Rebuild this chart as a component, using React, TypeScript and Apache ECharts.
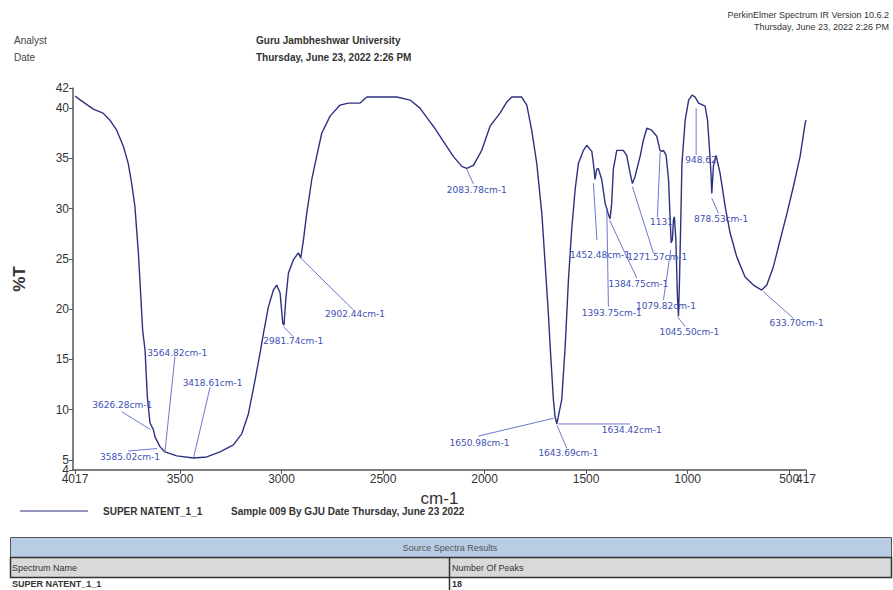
import React, { useEffect, useRef } from "react";
import * as echarts from "echarts";

// Spectrum trace (wavenumber cm-1, %T)
const wavenumbers = [
  4017, 3990, 3927, 3879, 3845, 3812, 3779, 3755, 3738, 3722, 3705, 3694, 3684, 3672, 3661, 3648, 3631, 3623, 3598, 3574,
  3516, 3434, 3368, 3303, 3237, 3196, 3163, 3130, 3106, 3089, 3065, 3040, 3024, 3007, 2994, 2988, 2978, 2966, 2942, 2917,
  2905, 2892, 2876, 2851, 2827, 2802, 2761, 2712, 2671, 2613, 2580, 2432, 2367, 2318, 2268, 2252, 2203, 2154, 2112, 2088,
  2055, 2014, 1973, 1924, 1891, 1866, 1817, 1792, 1768, 1743, 1718, 1702, 1686, 1677, 1661, 1653, 1644, 1637, 1620, 1603,
  1587, 1571, 1554, 1538, 1513, 1497, 1472, 1464, 1456, 1448, 1440, 1423, 1406, 1398, 1390, 1382, 1374, 1366, 1349, 1317,
  1300, 1283, 1272, 1259, 1234, 1218, 1201, 1177, 1152, 1136, 1127, 1119, 1106, 1094, 1086, 1081, 1075, 1070, 1065, 1058,
  1050, 1045, 1040, 1033, 1028, 1012, 995, 978, 963, 946, 914, 902, 892, 885, 881, 873, 860, 840, 815, 791,
  758, 717, 676, 635, 610, 578, 544, 511, 479, 446, 421, 417,
];
const transmittance = [
  41.2, 40.8, 39.9, 39.5, 38.8, 37.8, 36.2, 34.5, 32.5, 30.2, 25.6, 21.6, 17.9, 15.9, 11.3, 8.7, 8.0, 7.3, 6.3, 5.8,
  5.4, 5.2, 5.3, 5.8, 6.5, 7.6, 9.6, 13.0, 15.6, 17.6, 20.2, 21.9, 22.4, 21.6, 18.6, 18.4, 21.2, 23.6, 24.9, 25.6,
  25.1, 26.9, 29.5, 32.9, 35.2, 37.5, 39.2, 40.3, 40.5, 40.5, 41.1, 41.1, 40.8, 40.0, 38.6, 38.2, 36.7, 35.2, 34.2, 34.0,
  34.3, 35.8, 38.2, 39.5, 40.6, 41.1, 41.1, 40.3, 37.8, 34.5, 29.5, 24.6, 19.6, 16.3, 11.0, 9.3, 8.6, 9.3, 11.0, 16.3,
  22.9, 27.9, 31.9, 34.5, 35.8, 36.3, 35.7, 34.5, 32.9, 33.9, 34.0, 32.9, 30.5, 30.0, 29.4, 29.0, 30.5, 33.9, 35.8, 35.8,
  35.3, 33.5, 32.5, 33.2, 35.2, 36.8, 38.0, 37.8, 37.2, 35.8, 35.7, 35.8, 35.3, 32.9, 28.9, 26.6, 26.9, 28.9, 29.2, 26.9,
  21.2, 19.3, 22.9, 29.5, 34.5, 38.8, 40.8, 41.3, 41.1, 40.5, 40.2, 38.8, 35.8, 33.5, 31.5, 34.2, 35.3, 33.5, 30.2, 27.6,
  25.2, 23.2, 22.4, 21.9, 22.4, 24.2, 26.9, 29.5, 32.2, 35.2, 38.5, 38.8,
];

// Tick labels (the range-end labels 417 and 4 sit on companion axes)
const xTicks = [4017, 3500, 3000, 2500, 2000, 1500, 1000, 500];
const xEndTicks = [417];
const yTicks = [5, 10, 15, 20, 25, 30, 35, 40, 42];
const yEndTicks = [4];

// Peak annotations: text, peak point, leader end, text anchor (all in data coords)
const peakLabels = [
  "3564.82cm-1", "3418.61cm-1", "3626.28cm-1", "3585.02cm-1", "2981.74cm-1", "2902.44cm-1", "2083.78cm-1",
  "1650.98cm-1", "1643.69cm-1", "1634.42cm-1", "1452.48cm-1", "1271.57cm-1", "1384.75cm-1", "1393.75cm-1",
  "1131", "1079.82cm-1", "1045.50cm-1", "948.62", "878.53cm-1", "633.70cm-1",
];
const peakPoints = [
  [3574, 5.82], [3434, 5.16], [3648, 8.05], [3613, 6.13], [2991, 18.26], [2912, 25.22], [2088, 33.92],
  [1661, 9.14], [1644, 8.48], [1636, 8.58], [1464, 32.53], [1272, 32.19], [1385, 28.88], [1398, 29.87],
  [1135, 35.67], [1083, 25.89], [1050, 19.25], [958, 39.99], [881, 31.03], [627, 21.74],
];
const leaderEnds = [
  [3525, 15.27], [3352, 12.23], [3787, 9.8], [3756, 5.89], [2942, 17.26], [2646, 19.92], [2055, 32.46],
  [2030, 7.38], [1595, 6.16], [1283, 8.58], [1447, 26.89], [1168, 25.56], [1250, 23.07], [1390, 20.25],
  [1149, 29.14], [1119, 20.92], [1012, 18.26], [958, 35.34], [848, 29.54], [479, 19.09],
];
const textAnchors = [
  [3661, 15.67], [3487, 12.69], [3932, 10.47], [3894, 5.32], [3090, 16.84], [2786, 19.49], [2186, 31.86],
  [2173, 6.72], [1735, 5.66], [1423, 7.98], [1579, 25.39], [1297, 25.16], [1390, 22.51], [1521, 19.65],
  [1185, 28.65], [1254, 20.35], [1139, 17.73], [1012, 34.85], [968, 28.94], [597, 18.66],
];

const FONT = "'Liberation Sans', Arial, sans-serif";
const X_MIN = 417;
const X_MAX = 4027;
const Y_MIN = 4;
const Y_MAX = 42;

export default function App() {
  const ref = useRef<HTMLDivElement>(null);

  useEffect(() => {
    if (!ref.current) return;
    const chart = echarts.init(ref.current, null, { renderer: "svg" });

    const spectrum = wavenumbers.map((w, i) => [w, transmittance[i]]);
    const annotations = peakLabels.map((_, i) => [
      peakPoints[i][0], peakPoints[i][1], leaderEnds[i][0], leaderEnds[i][1], textAnchors[i][0], textAnchors[i][1], i,
    ]);

    const txt = (x: number, y: number, text: string, opts: any = {}) => ({
      type: "text",
      x,
      y,
      silent: true,
      style: {
        text,
        fill: opts.fill || "#333",
        fontSize: opts.fontSize || 10,
        fontWeight: opts.bold ? "bold" : "normal",
        fontFamily: FONT,
        align: opts.align || "left",
        verticalAlign: "middle",
      },
    });

    const labelStyle = {
      formatter: (v: number) => String(v),
      color: "#333",
      fontSize: 12,
      fontFamily: FONT,
      hideOverlap: false,
    };

    chart.setOption({
      animation: false,
      backgroundColor: "#ffffff",
      grid: { left: 73, right: 87, top: 88, bottom: 120, containLabel: false },
      xAxis: [
        {
          type: "value",
          min: X_MIN,
          max: X_MAX,
          inverse: true,
          position: "bottom",
          name: "cm-1",
          nameLocation: "middle",
          nameGap: 15,
          nameTextStyle: { fontSize: 17, color: "#333", fontFamily: FONT },
          axisLine: { show: true, onZero: false, lineStyle: { color: "#555", width: 1.5 } },
          axisTick: { show: true, customValues: xTicks, length: 4, lineStyle: { color: "#555" } },
          axisLabel: { ...labelStyle, customValues: xTicks, margin: 3 },
          splitLine: { show: false },
        },
        {
          type: "value",
          min: X_MIN,
          max: X_MAX,
          inverse: true,
          position: "bottom",
          offset: 0,
          axisLine: { show: false, onZero: false },
          axisTick: { show: true, customValues: xEndTicks, length: 4, lineStyle: { color: "#555" } },
          axisLabel: { ...labelStyle, customValues: xEndTicks, margin: 3 },
          splitLine: { show: false },
        },
      ],
      yAxis: [
        {
          type: "value",
          min: Y_MIN,
          max: Y_MAX,
          position: "left",
          name: "%T",
          nameLocation: "middle",
          nameGap: 45,
          nameRotate: 90,
          nameTextStyle: { fontSize: 17, fontWeight: "bold", color: "#333", fontFamily: FONT },
          axisLine: { show: true, onZero: false, lineStyle: { color: "#555", width: 1.5 } },
          axisTick: { show: true, customValues: yTicks, length: 4, lineStyle: { color: "#555" } },
          axisLabel: { ...labelStyle, customValues: yTicks, margin: 4 },
          splitLine: { show: false },
        },
        {
          type: "value",
          min: Y_MIN,
          max: Y_MAX,
          position: "left",
          offset: 0,
          axisLine: { show: false, onZero: false },
          axisTick: { show: true, customValues: yEndTicks, length: 4, lineStyle: { color: "#555" } },
          axisLabel: { ...labelStyle, customValues: yEndTicks, margin: 4 },
          splitLine: { show: false },
        },
      ],
      series: [
        {
          type: "line",
          data: spectrum,
          showSymbol: false,
          symbol: "none",
          lineStyle: { color: "#2e3180", width: 1.4 },
          z: 3,
        },
        {
          type: "custom",
          data: annotations,
          encode: { x: [0, 2, 4], y: [1, 3, 5] },
          clip: false,
          z: 4,
          renderItem: (params: any, api: any) => {
            const p0 = api.coord([api.value(0), api.value(1)]);
            const p1 = api.coord([api.value(2), api.value(3)]);
            const pt = api.coord([api.value(4), api.value(5)]);
            const i = api.value(6);
            return {
              type: "group",
              children: [
                {
                  type: "line",
                  shape: { x1: p0[0], y1: p0[1], x2: p1[0], y2: p1[1] },
                  style: { stroke: "#5a6acb", lineWidth: 0.9 },
                },
                {
                  type: "text",
                  x: pt[0],
                  y: pt[1],
                  style: {
                    text: peakLabels[i],
                    fill: "#3e50b4",
                    fontSize: 9,
                    fontFamily: "'DejaVu Sans', Verdana, sans-serif",
                    align: "left",
                    verticalAlign: "middle",
                  },
                },
              ],
            };
          },
        },
      ],
      graphic: [
        txt(889, 15, "PerkinElmer Spectrum IR Version 10.6.2", { align: "right", fontSize: 9 }),
        txt(889, 27, "Thursday, June 23, 2022 2:26 PM", { align: "right", fontSize: 9 }),
        txt(14, 40, "Analyst", { fontSize: 10, fill: "#444" }),
        txt(14, 57, "Date", { fontSize: 10, fill: "#444" }),
        txt(256, 40, "Guru Jambheshwar University", { fontSize: 10, bold: true }),
        txt(256, 57, "Thursday, June 23, 2022 2:26 PM", { fontSize: 10, bold: true }),
        {
          type: "line",
          shape: { x1: 20, y1: 511, x2: 88, y2: 511 },
          style: { stroke: "#2e3180", lineWidth: 1.2 },
        },
        txt(103, 511, "SUPER NATENT_1_1", { fontSize: 10, bold: true }),
        txt(231, 511, "Sample 009 By GJU Date Thursday, June 23 2022", { fontSize: 10, bold: true }),
        {
          type: "rect",
          shape: { x: 10.5, y: 537.5, width: 881, height: 20 },
          style: { fill: "#b8cce4", stroke: "#555", lineWidth: 1 },
        },
        txt(450, 547.5, "Source Spectra Results", { align: "center", fontSize: 9, fill: "#555" }),
        {
          type: "rect",
          shape: { x: 10.5, y: 557.5, width: 881, height: 20 },
          style: { fill: "#d9d9d9", stroke: "#333", lineWidth: 1.5 },
        },
        txt(12, 567.5, "Spectrum Name", { fontSize: 9, fill: "#333" }),
        txt(452, 567.5, "Number Of Peaks", { fontSize: 9, fill: "#333" }),
        {
          type: "line",
          shape: { x1: 449.5, y1: 557.5, x2: 449.5, y2: 590 },
          style: { stroke: "#333", lineWidth: 1.5 },
        },
        txt(12, 584, "SUPER NATENT_1_1", { fontSize: 9, bold: true }),
        txt(452, 584, "18", { fontSize: 9, bold: true }),
      ],
    });

    return () => chart.dispose();
  }, []);

  return (
    <div
      ref={ref}
      style={{ position: "fixed", left: 0, top: 0, width: 893, height: 590, background: "#fff" }}
    />
  );
}
